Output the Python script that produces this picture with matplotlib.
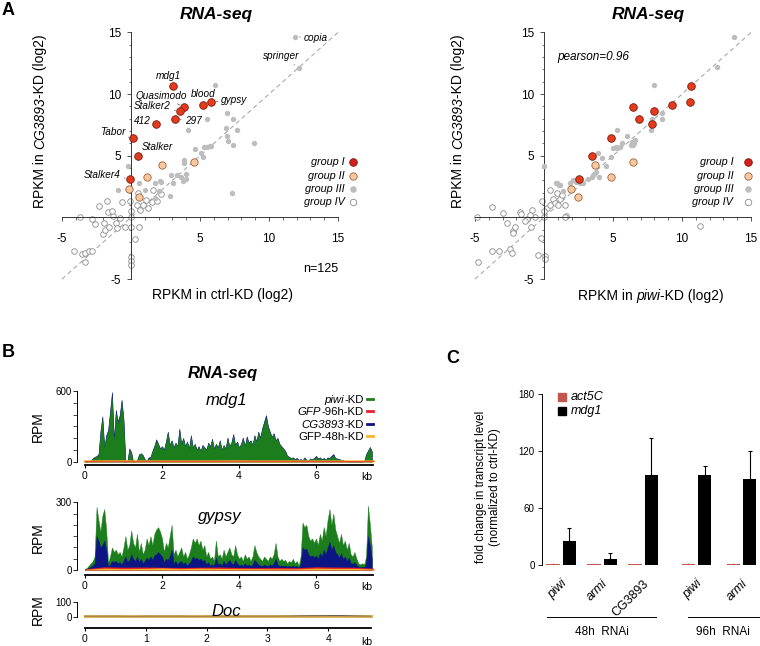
import numpy as np
import matplotlib
matplotlib.use("Agg")
import matplotlib.pyplot as plt
from matplotlib.lines import Line2D
from matplotlib.patches import Rectangle

plt.rcParams['font.family'] = ['Liberation Sans', 'DejaVu Sans']

# ==========================
# DATA
# ==========================

# panel A, group I (named TEs), y = CG3893-KD
g1_names = ['mdg1', 'Quasimodo', 'Stalker2', 'blood', 'gypsy', '297', '412', 'Tabor', 'Stalker', 'Stalker4']
g1_ctrl = [3.02, 3.86, 3.57, 5.19, 5.82, 3.21, 1.79, 0.12, 0.51, -0.07]
g1_piwi = [10.67, 6.43, 8.0, 9.3, 10.58, 6.86, 7.83, 4.88, 3.5, 2.51]
g1_cg = [10.68, 8.93, 8.6, 9.09, 9.36, 7.98, 7.6, 6.41, 4.98, 3.14]

# group II
g2_ctrl = [2.25, 4.54, 1.14, -0.12, 0.58]
g2_piwi = [3.72, 6.47, 4.88, 1.93, 2.44]
g2_cg = [4.25, 4.47, 3.25, 2.3, 1.63]

# group III (left panel: ctrl vs CG3893)
g3_left_x = [11.86, 12.15, 6.09, 6.93, 7.37, 5.53, 4.13, 6.91, 7.7, 6.98, 7.03, 7.37, 8.91, 5.49,
             5.78, 4.64, 5.05, 5.24, -0.2, 3.84, 3.84, 7.34, -0.92, 0.58, 0.99, 1.74, 2.1, 2.2,
             2.88, 3.31, 3.6, 3.99, 4.0, 3.8, 3.02, 2.0, 2.83, 1.77, 5.29, 5.72]
g3_left_y = [14.66, 12.14, 10.74, 8.44, 7.98, 7.98, 7.06, 7.22, 7.06, 6.6, 6.2, 5.87, 6.06, 5.71,
             5.81, 5.52, 5.2, 4.92, 4.2, 4.65, 4.38, 2.0, 2.22, 2.81, 2.22, 2.75, 2.98, 2.9,
             3.44, 3.42, 3.27, 3.52, 3.1, 2.98, 2.8, 2.17, 1.74, 1.6, 5.68, 5.79]
# group III (right panel: piwi vs CG3893)
g3_right_x = [13.79, 12.54, 7.95, 8.57, 8.52, 7.8, 7.8, 7.75, 5.31, 5.99, 6.4, 6.3, 6.5, 5.2,
              5.51, 5.3, 5.0, 3.91, 4.83, 4.2, 0.0, 4.47, 0.97, 1.16, 2.12, 1.88, 2.3, 2.85,
              3.21, 3.62, 3.45, 4.01, 3.8, 2.6, 1.35, 0.85, 1.09, 6.6, 6.47, 5.63]
g3_right_y = [14.66, 12.2, 10.74, 8.44, 7.98, 7.96, 7.49, 7.11, 7.11, 6.6, 6.1, 5.85, 6.0, 5.7,
              5.68, 5.6, 5.6, 5.25, 4.92, 4.8, 4.2, 4.17, 2.76, 2.62, 3.03, 2.82, 2.9, 2.82,
              3.09, 3.52, 3.3, 3.3, 3.65, 2.75, 2.17, 2.82, 2.6, 6.3, 5.85, 6.03]

# group IV
g4_left_x = [-4.13, -3.57, -3.3, -3.05, -2.85, -3.33, -3.7, -2.8, -2.3, -1.77, -1.65, -1.96, -2.05,
             -1.9, -1.57, -1.09, -1.04, -0.8, -0.67, -0.43, 0.0, 0.6, 0.0, 0.0, -0.05, 0.41, 0.85,
             1.09, 1.5, 1.57, 1.86, 0.65, 0.0, 0.0, 0.0, 0.29, -1.3, -2.6, 1.2, 0.5, 2.2, -1.4]
g4_left_y = [-2.7, -3.0, -2.9, -2.75, -2.7, -3.6, 0.06, -0.15, 0.92, 1.35, 0.4, -0.43, -1.35,
             -1.05, -0.8, -0.43, -0.88, -0.07, 1.27, -0.8, -0.8, -0.8, 0.0, 0.55, 1.37, 1.0, 1.0,
             1.41, 1.27, 2.22, 1.35, 0.6, -3.19, -3.51, -3.86, -1.78, 0.1, -0.5, 0.8, 2.0, 1.9, 0.5]
g4_right_x = [-4.83, -4.8, -3.79, -3.0, -2.7, -2.27, -2.25, -2.1, -1.74, -1.65, -1.21, -0.96, -0.89,
              -0.63, -0.24, -0.46, 0.07, 0.07, -3.79, -3.24, -2.5, -2.3, 0.0, -0.17, 0.43, 0.92,
              0.63, 1.16, 1.52, 1.59, 0.19, 0.8, 0.4, 1.3, 1.55, 11.3, -1.4, -1.0, 0.0, 1.0]
g4_right_y = [0.0, -3.6, 0.87, 0.38, -0.48, -1.08, -1.29, -0.75, 0.46, 0.3, -0.13, -0.8, 0.6,
              0.0, -1.7, -3.05, -3.1, -3.4, -2.7, -2.7, -2.6, -2.9, 0.0, 1.33, 2.22, 2.0,
              1.47, 1.47, 1.0, 0.11, 0.73, 1.2, 1.0, 1.8, 0.0, -0.7, -0.3, 0.2, 0.5, 1.0]

# panel B, coverage (RPM) in 0.05 kb bins
bin_kb = 0.05
mdg1_piwi = [0, 2, 5, 10, 25, 40, 45, 60, 250, 370,
             120, 220, 260, 420, 560, 180, 420, 330, 380, 510,
             350, 0, 5, 100, 80, 0, 5, 10, 60, 70,
             55, 20, 5, 25, 40, 90, 130, 180, 150, 110,
             130, 100, 170, 250, 140, 180, 120, 160, 130, 270,
             150, 200, 130, 170, 110, 220, 120, 150, 100, 130,
             90, 140, 120, 100, 160, 130, 190, 110, 150, 120,
             180, 100, 140, 110, 200, 130, 160, 230, 140, 170,
             120, 150, 200, 130, 210, 160, 180, 140, 220, 170,
             250, 200, 280, 330, 380, 300, 250, 210, 240, 180,
             200, 150, 130, 110, 90, 50, 40, 30, 35, 20,
             30, 15, 20, 10, 35, 15, 10, 25, 20, 30,
             45, 25, 35, 20, 30, 15, 35, 30, 45, 55,
             30, 25, 20, 15, 10, 5, 2, 2, 1, 1,
             1, 1, 1, 1, 2, 5, 60, 90, 120, 85]
mdg1_cg = [0, 2, 5, 12, 28, 42, 48, 65, 260, 385,
           125, 225, 270, 430, 590, 185, 440, 340, 395, 525,
           360, 0, 5, 112, 82, 0, 5, 12, 62, 72,
           57, 22, 8, 35, 42, 92, 135, 190, 152, 112,
           132, 102, 172, 255, 142, 182, 122, 162, 132, 280,
           152, 202, 132, 172, 112, 225, 122, 152, 102, 132,
           92, 142, 122, 102, 162, 132, 195, 112, 152, 122,
           182, 102, 142, 112, 205, 132, 162, 235, 142, 172,
           122, 152, 205, 132, 215, 162, 182, 142, 225, 172,
           255, 205, 285, 340, 395, 305, 255, 212, 242, 182,
           202, 152, 132, 112, 92, 52, 42, 32, 37, 22,
           32, 17, 22, 12, 37, 17, 12, 27, 22, 32,
           50, 27, 37, 22, 32, 17, 37, 32, 50, 65,
           32, 27, 22, 17, 12, 6, 3, 2, 1, 1,
           1, 1, 1, 1, 2, 6, 65, 95, 125, 88]
gypsy_piwi = [5, 10, 20, 30, 40, 60, 280, 220, 170, 240,
              270, 180, 30, 60, 100, 80, 90, 70, 80, 60,
              100, 150, 90, 110, 175, 120, 100, 160, 80, 120,
              70, 90, 140, 110, 150, 110, 160, 180, 190, 170,
              140, 80, 120, 100, 150, 200, 70, 90, 60, 80,
              100, 60, 80, 50, 70, 100, 140, 120, 140, 110,
              130, 90, 110, 60, 80, 50, 60, 40, 130, 60,
              70, 50, 90, 60, 80, 100, 70, 60, 110, 70,
              50, 60, 40, 70, 50, 60, 40, 60, 110, 80,
              60, 50, 40, 60, 50, 40, 60, 50, 70, 120,
              60, 40, 50, 40, 45, 30, 40, 35, 50, 30,
              40, 20, 60, 210, 190, 200, 150, 130, 140, 120,
              140, 110, 160, 130, 190, 150, 220, 270, 200, 250,
              180, 150, 120, 160, 110, 130, 90, 120, 70, 60,
              80, 50, 30, 25, 30, 25, 60, 285, 200, 100]
gypsy_cg = [3, 5, 10, 15, 20, 30, 150, 130, 100, 110,
            130, 90, 15, 25, 40, 35, 40, 30, 35, 25,
            40, 60, 35, 45, 70, 50, 40, 60, 35, 50,
            30, 40, 55, 45, 60, 45, 65, 70, 80, 70,
            60, 35, 50, 45, 60, 90, 30, 40, 25, 35,
            40, 25, 35, 20, 30, 40, 60, 50, 55, 45,
            50, 40, 45, 25, 35, 20, 25, 20, 55, 25,
            30, 20, 40, 25, 35, 45, 30, 25, 45, 30,
            20, 25, 18, 30, 20, 25, 18, 25, 45, 35,
            25, 20, 18, 25, 20, 18, 25, 20, 30, 50,
            25, 18, 20, 18, 20, 15, 18, 15, 20, 15,
            18, 10, 30, 100, 90, 95, 70, 60, 65, 55,
            65, 50, 75, 60, 90, 70, 100, 125, 90, 110,
            80, 70, 55, 75, 50, 60, 40, 55, 30, 28,
            35, 22, 15, 12, 15, 12, 30, 150, 110, 50]
# controls, 0.5 kb bins
ctrl_bin_kb = 0.5
mdg1_gfp96 = [2, 4, 4, 3, 3, 3, 3, 3, 4, 3, 3, 3, 3, 2, 2, 3]
mdg1_gfp48 = [2, 3, 3, 2, 2, 2, 2, 2, 3, 2, 2, 2, 2, 2, 2, 2]
gypsy_gfp96 = [5, 14, 12, 13, 12, 11, 12, 13, 11, 10, 11, 10, 14, 13, 12, 8]
gypsy_gfp48 = [3, 8, 6, 7, 9, 6, 8, 7, 6, 6, 5, 5, 8, 7, 7, 4]
# Doc, 4.7 kb
doc_len_kb = 4.7
doc_piwi = [2, 2, 3, 2, 2, 3, 2, 2, 2, 3, 2, 2, 2, 3, 3, 4, 3, 3, 2]
doc_cg = [3, 3, 3, 2, 3, 3, 3, 2, 3, 3, 3, 3, 3, 4, 6, 7, 8, 5, 3]
doc_gfp96 = [2, 2, 2, 2, 2, 2, 2, 2, 2, 2, 2, 2, 2, 2, 2, 3, 2, 2, 2]
doc_gfp48 = [3, 3, 3, 3, 3, 3, 3, 3, 3, 3, 3, 3, 3, 3, 3, 3, 3, 3, 3]

# panel C, qPCR fold change
kd_labels = ['piwi', 'armi', 'CG3893', 'piwi', 'armi']
act5c_vals = [1.0, 1.0, 1.0, 1.0, 1.0]
act5c_err = [0.6, 0.5, 0.5, 0.6, 0.6]
mdg1_vals = [25.6, 6.7, 95.1, 95.1, 91.2]
mdg1_err = [13.0, 5.9, 39.0, 9.1, 28.8]

# ==========================
# LAYOUT HELPERS (pixel based)
# ==========================
W, H = 760, 646
fig = plt.figure(figsize=(W / 100, H / 100), dpi=100)
renderer = fig.canvas.get_renderer()


def fx(px):
    return px / W


def fy(py):
    return 1 - py / H


def add_ax(x0, y0, x1, y1):
    return fig.add_axes([fx(x0), fy(y1), (x1 - x0) / W, (y1 - y0) / H])


def ftext(px, py, s, **kw):
    return fig.text(fx(px), fy(py), s, **kw)


def fline(x0, x1, y0, y1, **kw):
    fig.add_artist(Line2D([fx(x0), fx(x1)], [fy(y0), fy(y1)], transform=fig.transFigure, **kw))


def rich_text(px, py, parts, fontsize, align='center', vertical=False):
    # parts: list of (text, style); pieces are laid side by side
    texts = []
    for s, st in parts:
        if vertical:
            t = ftext(0, 0, s, fontsize=fontsize, style=st, rotation=90, ha='center', va='bottom')
        else:
            t = ftext(0, 0, s, fontsize=fontsize, style=st, ha='left', va='baseline')
        texts.append(t)
    # measure with a probe so trailing spaces are counted
    sizes = []
    for s, st in parts:
        probe = ftext(0, 0, '|' + s + '|', fontsize=fontsize, style=st)
        bar = ftext(0, 0, '||', fontsize=fontsize, style=st)
        sizes.append(probe.get_window_extent(renderer).width - bar.get_window_extent(renderer).width)
        probe.remove()
        bar.remove()
    total = sum(sizes)
    if vertical:
        pos = py + total / 2
        for t, w in zip(texts, sizes):
            t.set_position((fx(px), fy(pos)))
            pos -= w
    else:
        pos = px - total / 2 if align == 'center' else px - total
        for t, w in zip(texts, sizes):
            t.set_position((fx(pos), fy(py + fontsize * 0.36 * 100 / 72)))
            pos += w


RED = '#e63a1f'
RED_E = '#7a1a0a'
PEACH = '#f8c9a0'
PEACH_E = '#a0603a'
GRAY = '#bdbdbd'
OPEN_E = '#8a8a8a'
AX_C = '#333333'

# ==========================
# PANEL A
# ==========================
XS, YS = 13.8, 12.33
Y0 = 217.4


def scatter_ax(x_zero):
    ax = add_ax(x_zero - 5.5 * XS, Y0 - 15.5 * YS, x_zero + 15.5 * XS, Y0 + 5.5 * YS)
    ax.set_xlim(-5.5, 15.5)
    ax.set_ylim(-5.5, 15.5)
    ax.patch.set_alpha(0)
    for s in ['top', 'right']:
        ax.spines[s].set_visible(False)
    for s in ['left', 'bottom']:
        ax.spines[s].set_position(('data', 0))
        ax.spines[s].set_bounds(-5, 15)
        ax.spines[s].set_linewidth(0.7)
        ax.spines[s].set_color(AX_C)
    ax.set_xticks([-5, 0, 5, 10, 15])
    ax.set_xticklabels(['-5', '', '5', '10', '15'])
    ax.set_yticks([-5, 0, 5, 10, 15])
    ax.set_yticklabels(['-5', '', '5', '10', '15'])
    ax.set_xticks(range(-5, 16), minor=True)
    ax.set_yticks(range(-5, 16), minor=True)
    ax.tick_params(which='major', direction='out', length=3, width=0.6, color=AX_C, labelsize=8.5)
    ax.tick_params(which='minor', direction='out', length=1.8, width=0.5, color=AX_C)
    ax.tick_params(axis='x', which='major', pad=8)
    ax.tick_params(axis='y', which='major', pad=4)
    ax.plot([-5, 15], [-5, 15], color='#aaaaaa', lw=0.8, dashes=(4, 3), zorder=1)
    return ax


def draw_groups(ax, g3x, g3y, g4x, g4y, g2x, g1x):
    ax.scatter(g4x, g4y, s=16, facecolor='white', edgecolor=OPEN_E, linewidth=0.6, zorder=2)
    ax.scatter(g3x, g3y, s=15, color=GRAY, linewidth=0, zorder=3)
    ax.scatter(g2x, g2_cg, s=28, facecolor=PEACH, edgecolor=PEACH_E, linewidth=0.6, zorder=4)
    ax.scatter(g1x, g1_cg, s=30, facecolor=RED, edgecolor=RED_E, linewidth=0.6, zorder=5)


def scatter_legend(ax, text_right, marker_x):
    rows = [('group I', dict(facecolor='#d11f1f', edgecolor=RED_E, s=30, linewidth=0.6)),
            ('group II', dict(facecolor=PEACH, edgecolor=PEACH_E, s=28, linewidth=0.6)),
            ('group III', dict(color=GRAY, s=22, linewidth=0)),
            ('group IV', dict(facecolor='white', edgecolor=OPEN_E, s=22, linewidth=0.6))]
    for (lab, st), py in zip(rows, [162.3, 176, 189.3, 202.3]):
        ftext(text_right, py, lab, ha='right', va='center', fontsize=7.8, style='italic')
        ax.scatter([fx(marker_x)], [fy(py)], transform=fig.transFigure, clip_on=False, **st)


LEAD = dict(arrowstyle='-', lw=0.5, color='#555555', shrinkA=0.5, shrinkB=3.5)

# left scatter
axL = scatter_ax(131)
draw_groups(axL, g3_left_x, g3_left_y, g4_left_x, g4_left_y, g2_ctrl, g1_ctrl)

label_pos = {'mdg1': (2.68, 11.47, False), 'Quasimodo': (2.2, 9.87, True), 'Stalker2': (1.55, 9.03, True),
             'blood': (5.2, 10.0, False), 'gypsy': (7.5, 9.5, True), '297': (4.5, 7.8, True),
             '412': (0.8, 7.84, True), 'Tabor': (-1.35, 6.9, True), 'Stalker': (1.9, 5.75, True),
             'Stalker4': (-2.1, 3.4, True)}
for name, x, y in zip(g1_names, g1_ctrl, g1_cg):
    tx, ty, lead = label_pos[name]
    axL.annotate(name, xy=(x, y), xytext=(tx, ty), fontsize=7.2, style='italic', ha='center', va='center',
                 arrowprops=LEAD if lead else None, zorder=6)
axL.annotate('copia', xy=(g3_left_x[0], g3_left_y[0]), xytext=(13.4, 14.55), fontsize=7.2, style='italic',
             ha='center', va='center', arrowprops=LEAD)
axL.annotate('springer', xy=(g3_left_x[1], g3_left_y[1]), xytext=(10.9, 13.05), fontsize=7.2, style='italic',
             ha='center', va='center', arrowprops=LEAD)
scatter_legend(axL, 345, 352.5)

ftext(216.7, 15, 'RNA-seq', ha='center', va='center', fontsize=12.5, weight='bold', style='italic')
ftext(222, 294.7, 'RPKM in ctrl-KD (log2)', ha='center', va='center', fontsize=10)
rich_text(40, 121, [('RPKM in ', 'normal'), ('CG3893', 'italic'), ('-KD (log2)', 'normal')], 10, vertical=True)
ftext(338, 269, 'n=125', ha='right', va='center', fontsize=9)
ftext(2, 2, 'A', ha='left', va='top', fontsize=13, weight='bold')

# right scatter
axR = scatter_ax(544)
draw_groups(axR, g3_right_x, g3_right_y, g4_right_x, g4_right_y, g2_piwi, g1_piwi)
scatter_legend(axR, 733.3, 747.7)
ftext(648.3, 15, 'RNA-seq', ha='center', va='center', fontsize=12.5, weight='bold', style='italic')
rich_text(650.7, 294.7, [('RPKM in ', 'normal'), ('piwi', 'italic'), ('-KD (log2)', 'normal')], 10)
rich_text(458.3, 121, [('RPKM in ', 'normal'), ('CG3893', 'italic'), ('-KD (log2)', 'normal')], 10, vertical=True)
ftext(557, 56.7, 'pearson=0.96', ha='left', va='center', fontsize=8.5, style='italic')

# ==========================
# PANEL B
# ==========================
GREEN = '#1b7d1b'
BLUE = '#0d1585'
TRED = '#e8202a'
ORANGE = '#f5b82e'


def track_ax(y_top, y_zero, ymax, length_kb, px_per_kb, drop_pt, minor_step):
    x_left = 77.3
    x_right = 85 + length_kb * px_per_kb + 1
    ax = add_ax(x_left, y_top, x_right, y_zero)
    ax.set_xlim((x_left - 85) / px_per_kb, (x_right - 85) / px_per_kb)
    ax.set_ylim(0, ymax)
    ax.patch.set_alpha(0)
    for s in ['top', 'right']:
        ax.spines[s].set_visible(False)
    ax.spines['left'].set_linewidth(0.7)
    ax.spines['left'].set_bounds(0, ymax)
    ax.spines['bottom'].set_position(('outward', drop_pt))
    ax.spines['bottom'].set_linewidth(1.3)
    ax.spines['bottom'].set_bounds(0, length_kb)
    ax.set_yticks([0, ymax])
    ax.set_yticks(np.arange(0, ymax + 1, minor_step), minor=True)
    ax.tick_params(axis='y', which='major', length=3, width=0.6, labelsize=7, pad=1)
    ax.tick_params(axis='y', which='minor', length=3, width=0.5)
    ax.tick_params(axis='x', length=2.5, width=0.8, labelsize=7.5, pad=2)
    return ax


# mdg1
ax1 = track_ax(391, 461.7, 600, 7.48, 38.5, 2.4, 100)
kb = np.arange(len(mdg1_piwi)) * bin_kb
kb_c = np.arange(len(mdg1_gfp96)) * ctrl_bin_kb
ax1.fill_between(kb, 0, mdg1_cg, color=BLUE, lw=0.4)
ax1.fill_between(kb, 0, mdg1_piwi, color=GREEN, lw=0)
ax1.plot(kb_c, mdg1_gfp48, color=ORANGE, lw=1.6, clip_on=False)
ax1.plot(kb_c, mdg1_gfp96, color=TRED, lw=0.7, alpha=0.8, clip_on=False)
ax1.set_xticks([0, 2, 4, 6])

# gypsy
ax2 = track_ax(502.3, 570, 300, 7.48, 38.5, 3.6, 50)
kb = np.arange(len(gypsy_piwi)) * bin_kb
kb_c = np.arange(len(gypsy_gfp96)) * ctrl_bin_kb
ax2.fill_between(kb, 0, gypsy_piwi, color=GREEN, lw=0.3)
ax2.fill_between(kb, 0, gypsy_cg, color=BLUE, lw=0.3)
ax2.fill_between(kb_c, 0, gypsy_gfp96, color=TRED, lw=0)
ax2.fill_between(kb_c, 0, gypsy_gfp48, color=ORANGE, lw=0)
ax2.set_xticks([0, 2, 4, 6])

# Doc
ax3 = track_ax(601.7, 616.7, 100, doc_len_kb, 60.8, 8, 100)
kb = np.linspace(0, doc_len_kb, len(doc_piwi))
ax3.plot(kb, doc_piwi, color=GREEN, lw=1.0, clip_on=False)
ax3.plot(kb, doc_gfp48, color='#d9b65a', lw=2.2, clip_on=False)
ax3.plot(kb, doc_cg, color='#555555', lw=0.6, clip_on=False)
ax3.plot(kb, doc_gfp96, color='#c98a4a', lw=0.5, clip_on=False)
ax3.set_xticks([0, 1, 2, 3, 4])

for ypx in [476.7, 586.7, 641.7]:
    ftext(366.7, ypx, 'kb', ha='center', va='center', fontsize=7.5)

ftext(226.7, 400, 'mdg1', ha='center', va='center', fontsize=12, style='italic')
ftext(220, 516.7, 'gypsy', ha='center', va='center', fontsize=12, style='italic')
ftext(226.7, 611.7, 'Doc', ha='center', va='center', fontsize=12, style='italic')
for ypx in [426.7, 538, 610]:
    ftext(38.3, ypx, 'RPM', ha='center', va='center', rotation=90, fontsize=10)
ftext(223, 373.3, 'RNA-seq', ha='center', va='center', fontsize=12, weight='bold', style='italic')
ftext(2, 344, 'B', ha='left', va='top', fontsize=13, weight='bold')

track_legend = [([('piwi', 'italic'), ('-KD', 'normal')], GREEN),
                ([('GFP', 'italic'), ('-96h-KD', 'normal')], TRED),
                ([('CG3893', 'italic'), ('-KD', 'normal')], BLUE),
                ([('GFP-48h-KD', 'normal')], ORANGE)]
for (parts, col), ypx in zip(track_legend, [399, 411, 423.5, 435.5]):
    rich_text(363.5, ypx, parts, 8.2, align='right')
    fline(366.5, 373, ypx, ypx, color=col, lw=2)

# ==========================
# PANEL C
# ==========================
U = 41.0
axC = add_ax(541.7, 394.3, 760, 565)
axC.set_xlim((541.7 - 553) / U, (760 - 553) / U)
axC.set_ylim(0, 180)
for s in ['top', 'right', 'bottom']:
    axC.spines[s].set_visible(False)
axC.spines['left'].set_linewidth(0.7)
pos = np.array([0, 1, 2, 3.3, 4.4])
bw = 0.325
axC.bar(pos, act5c_vals, width=bw, color='#c4554d')
axC.bar(pos + 0.4, mdg1_vals, width=bw, color='black')
axC.errorbar(pos, act5c_vals, yerr=[np.zeros(5), act5c_err], fmt='none', ecolor='#c4554d', elinewidth=0.6)
axC.errorbar(pos + 0.4, mdg1_vals, yerr=[np.zeros(5), mdg1_err], fmt='none', ecolor='black',
             elinewidth=0.8, capsize=1.5, capthick=0.8)
axC.set_yticks([0, 60, 120, 180])
axC.tick_params(axis='y', length=3, width=0.6, labelsize=7, pad=2)
axC.set_xticks(pos + 0.4)
axC.set_xticklabels(kd_labels, rotation=45, ha='right', va='top', fontsize=9)
for t in axC.get_xticklabels():
    if t.get_text() != 'CG3893':
        t.set_style('italic')
axC.tick_params(axis='x', length=0, pad=9)

ftext(488, 486.7, 'fold change in transcript level\n(normalized to ctrl-KD)', ha='center', va='center',
      rotation=90, fontsize=8.5, linespacing=1.15)
fig.add_artist(Rectangle((fx(558), fy(400.7)), 8 / W, 8 / H, transform=fig.transFigure, color='#c4554d'))
fig.add_artist(Rectangle((fx(558), fy(414.7)), 8 / W, 8 / H, transform=fig.transFigure, color='black'))
ftext(571, 396.7, 'act5C', ha='left', va='center', fontsize=9, style='italic')
ftext(571, 410.7, 'mdg1', ha='left', va='center', fontsize=9, style='italic')

fline(546.7, 656, 617.3, 617.3, color='black', lw=0.7)
fline(688, 760, 617.3, 617.3, color='black', lw=0.7)
ftext(601.7, 631.7, '48h  RNAi', ha='center', va='center', fontsize=8.5)
ftext(723, 631.7, '96h  RNAi', ha='center', va='center', fontsize=8.5)
ftext(446.7, 350, 'C', ha='left', va='top', fontsize=13, weight='bold')

plt.savefig('out.png', dpi=100)
plt.close()
